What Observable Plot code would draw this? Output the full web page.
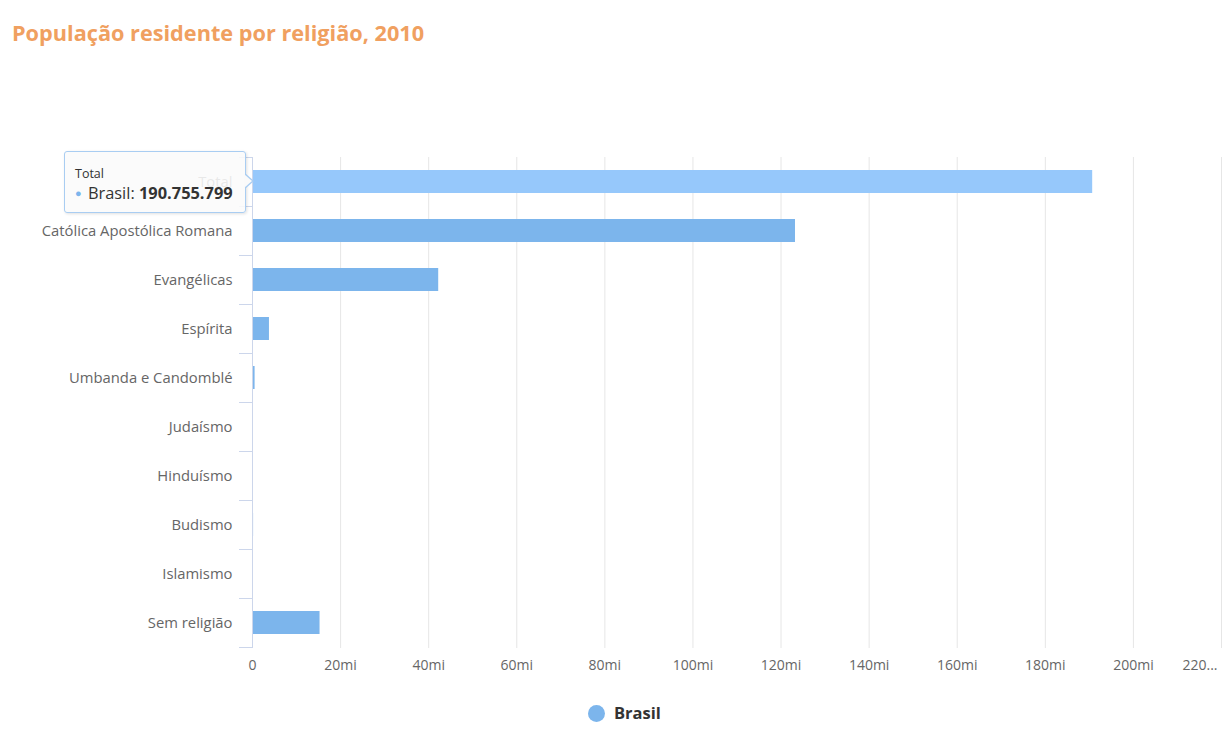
<!DOCTYPE html>
<html><head><meta charset="utf-8">
<script src="https://cdn.jsdelivr.net/npm/d3@7"></script>
<script src="https://cdn.jsdelivr.net/npm/@observablehq/plot@0.6"></script>
<style>
body{margin:0;background:#fff;font-family:"Open Sans",sans-serif;}
#wrap{position:relative;width:1224px;height:732px;overflow:hidden;}
#title{position:absolute;left:12px;top:20px;font-size:21.7px;font-weight:700;color:#f0a060;margin:0;line-height:1.2;}
#chart{position:absolute;left:0;top:0;}
#legend{position:absolute;left:588px;top:701px;font-size:16.5px;font-weight:700;color:#333;white-space:nowrap;line-height:24px;}
#legend .dot{display:inline-block;width:17px;height:17px;border-radius:50%;background:#7cb5ec;vertical-align:-3px;margin-right:9px;}
#tip{position:absolute;left:64px;top:151px;width:182px;height:62px;box-sizing:border-box;background:rgba(250,250,250,0.88);border:1px solid #a9cdf2;border-radius:3px;box-shadow:1px 1px 3px rgba(0,0,0,0.12);color:#333;}
#tip .h{position:absolute;left:10px;top:13px;font-size:12.5px;}
#tip .r{position:absolute;left:10px;top:30px;font-size:16.4px;white-space:nowrap;line-height:22px;}
#tip .r .b{font-weight:700;}
#tip .r .d{color:#7cb5ec;font-size:11px;vertical-align:2px;margin-right:2px;}
#arrow{position:absolute;left:245px;top:173px;width:0;height:0;border-top:8px solid transparent;border-bottom:8px solid transparent;border-left:9px solid #a9cdf2;}
#arrow2{position:absolute;left:244px;top:174px;width:0;height:0;border-top:7px solid transparent;border-bottom:7px solid transparent;border-left:8px solid rgba(250,250,250,1);}
</style></head>
<body>
<div id="wrap">
<div id="chart"></div>
<div id="title">População residente por religião, 2010</div>
<div id="tip"><div class="h">Total</div><div class="r"><span class="d">●</span> Brasil: <span class="b">190.755.799</span></div></div>
<div id="arrow"></div><div id="arrow2"></div>
<div id="legend"><span class="dot"></span>Brasil</div>
</div>
<script>
const categories = ["Total","Católica Apostólica Romana","Evangélicas","Espírita","Umbanda e Candomblé","Judaísmo","Hinduísmo","Budismo","Islamismo","Sem religião"];
const values = [190755799,123280172,42275440,3848876,588797,107329,5675,243966,35167,15335510];
const xTicks = [0,20,40,60,80,100,120,140,160,180,200,220];
const seriesName = "Brasil";

const data = categories.map((c,i)=>({cat:c, v: values[i]/1e6, hover: i===0}));

const chart = Plot.plot({
  width: 1224,
  height: 690,
  marginTop: 157,
  marginBottom: 42,
  marginLeft: 252,
  marginRight: 3,
  style: {fontFamily: '"Open Sans", sans-serif', fontSize: "14px", color: "#666", background: "transparent"},
  x: {domain: [0,220], axis: null},
  y: {domain: categories, paddingInner: 0.53, paddingOuter: 0.265, axis: null, label: null},
  marks: [
    Plot.ruleX(xTicks.filter(d=>d>0), {stroke: "#e6e6e6", strokeWidth: 1}),
    Plot.barX(data, {y: "cat", x: "v", fill: d => d.hover ? "#96c8fb" : "#7cb5ec"}),
    Plot.ruleX([0], {stroke: "#ccd6eb", strokeWidth: 1}),
    Plot.axisY({tickSize: 13, dy: -24.5, text: null, label: null, stroke: "#ccd6eb", tickPadding: 0}),
    Plot.axisY({ticks: [categories[categories.length-1]], tickSize: 13, dy: 24.5, text: null, label: null, stroke: "#ccd6eb"}),
    Plot.text(categories, {y: d=>d, x: 0, dx: -20, textAnchor: "end", fill: "#666", fontSize: 14.8}),
    Plot.text(xTicks.slice(0,-1), {x: d=>d, frameAnchor: "bottom", dy: 21, text: d => d===0 ? "0" : d+"mi", fill: "#666", fontSize: 14}),
    Plot.text(xTicks.slice(-1), {x: d=>d, frameAnchor: "bottom", dy: 21, dx: -4, textAnchor: "end", text: d => d+"...", fill: "#666", fontSize: 14})
  ]
});
document.getElementById("chart").appendChild(chart);
</script>
</body></html>
